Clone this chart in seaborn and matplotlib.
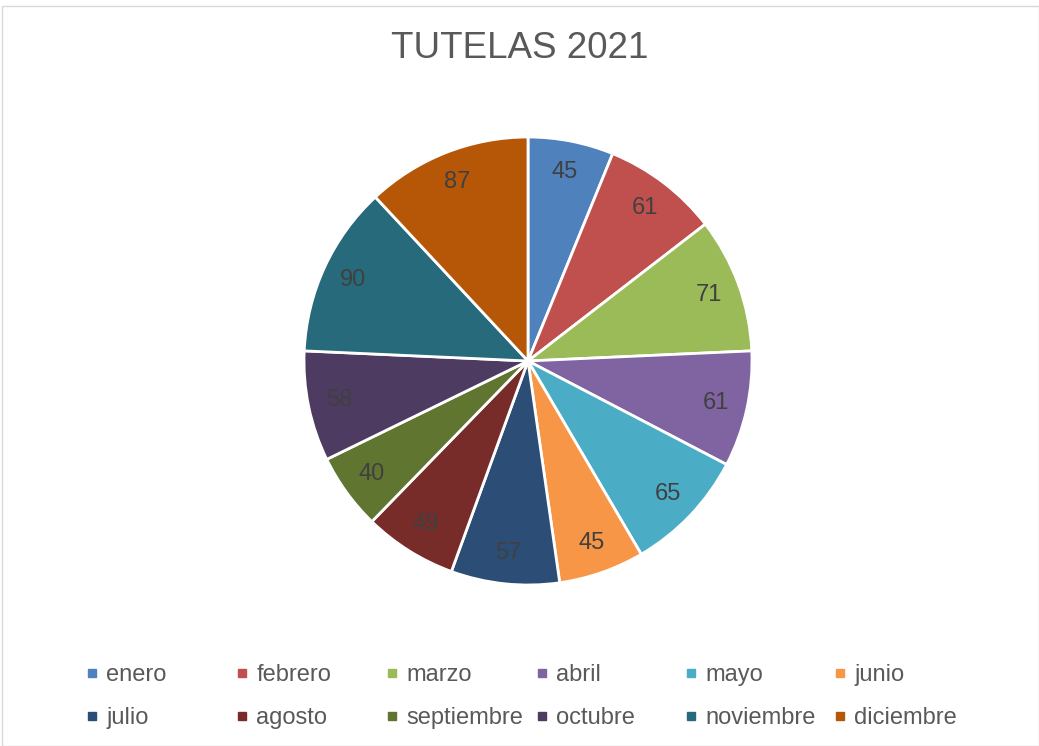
import matplotlib.pyplot as plt
import seaborn as sns
from matplotlib.lines import Line2D
from matplotlib.patches import Rectangle

# data
months = ["enero", "febrero", "marzo", "abril", "mayo", "junio",
          "julio", "agosto", "septiembre", "octubre", "noviembre", "diciembre"]
tutelas = [45, 61, 71, 61, 65, 45, 57, 49, 40, 58, 90, 87]
colors = ["#4F81BD", "#C0504D", "#9BBB59", "#8064A2", "#4BACC6", "#F79646",
          "#2C4D75", "#772C2A", "#5F7530", "#4D3B62", "#276A7C", "#B65708"]

sns.set_theme(style="white")
plt.rcParams["font.family"] = ["Liberation Sans", "DejaVu Sans"]
palette = sns.color_palette(colors)

W, H = 1039, 746
fig = plt.figure(figsize=(W / 100, H / 100), dpi=100)

# chart frame
fig.patches.append(Rectangle((2 / W, 0), 1 - 2 / W, 1 - 6 / H, transform=fig.transFigure,
                             fill=False, edgecolor="#d9d9d9", linewidth=1))

cx, cy, r = 528 / W, 1 - 361 / H, 224
ax = fig.add_axes([cx - r / W, cy - r / H, 2 * r / W, 2 * r / H])
wedges, texts, autotexts = ax.pie(
    tutelas,
    colors=palette,
    startangle=90,
    counterclock=False,
    autopct=lambda p: f"{p * sum(tutelas) / 100:.0f}",
    pctdistance=0.86,
    wedgeprops=dict(edgecolor="white", linewidth=2),
    textprops=dict(color="#404040", fontsize=17),
)
ax.set_xlim(-1, 1)
ax.set_ylim(-1, 1)
ax.axis("off")

fig.text(0.5, 1 - 49 / H, "TUTELAS 2021", ha="center", va="center",
         fontsize=26.5, color="#595959")

# legend: 2 rows x 6 columns, evenly spaced columns
col_x = [85, 235, 385, 535, 684, 833]
for i, x in enumerate(col_x):
    handles = [Line2D([], [], marker="s", linestyle="", markersize=6,
                      color=palette[j]) for j in (i, i + 6)]
    fig.legend(handles, [months[i], months[i + 6]], loc="upper left",
               bbox_to_anchor=(x / W, 1 - 664 / H), frameon=False,
               fontsize=17, labelcolor="#595959", handlelength=0.6,
               handletextpad=0.3, labelspacing=0.88, borderpad=0, borderaxespad=0)

fig.savefig("out.png", dpi=100)
